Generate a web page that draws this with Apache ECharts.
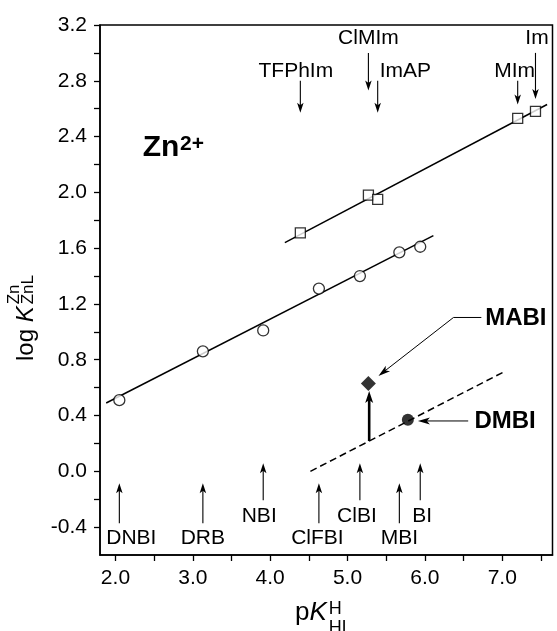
<!DOCTYPE html>
<html><head><meta charset="utf-8">
<script src="https://cdn.jsdelivr.net/npm/echarts@6.0.0/dist/echarts.min.js"></script>
<style>html,body{margin:0;padding:0;background:#fff}#chart{width:557px;height:631px}</style>
</head><body><div id="chart"></div>
<script>
// ---------- data ----------
const benzNames = ['DNBI', 'DRB', 'NBI', 'ClFBI', 'ClBI', 'MBI', 'BI'];
const benzPKa   = [2.05, 3.13, 3.91, 4.63, 5.16, 5.67, 5.94];
const benzLogK  = [0.51, 0.86, 1.01, 1.31, 1.40, 1.57, 1.61];

const imNames = ['TFPhIm', 'ClMIm', 'ImAP', 'MIm', 'Im'];
const imPKa   = [4.39, 5.27, 5.39, 7.20, 7.43];
const imLogK  = [1.71, 1.98, 1.95, 2.53, 2.58];

const extraNames = ['MABI', 'DMBI'];
const extraPKa   = [5.27, 5.78];
const extraLogK  = [0.63, 0.37];

// straight reference lines (end points)
const benzFitX = [1.88, 6.11];
const benzFitY = [0.49, 1.69];
const imFitX   = [4.19, 7.58];
const imFitY   = [1.64, 2.63];
const dmbiFitX = [4.52, 7.01];
const dmbiFitY = [0.00, 0.71];

// axes
const xTickValues  = [2.0, 2.5, 3.0, 3.5, 4.0, 4.5, 5.0, 5.5, 6.0, 6.5, 7.0, 7.5];
const xLabelValues = [2.0, 3.0, 4.0, 5.0, 6.0, 7.0];
const yTickValues  = [-0.4, -0.2, 0.0, 0.2, 0.4, 0.6, 0.8, 1.0, 1.2, 1.4, 1.6, 1.8, 2.0, 2.2, 2.4, 2.6, 2.8, 3.0, 3.2];
const yLabelValues = [-0.4, 0.0, 0.4, 0.8, 1.2, 1.6, 2.0, 2.4, 2.8, 3.2];

// ---------- annotation layout (data units / px offsets) ----------
const benzRow = [0, 0, 1, 0, 1, 0, 1];
const bottomRows = [{tail: -0.372, tip: -0.086, text: -0.478}, {tail: -0.207, tip: 0.058, text: -0.32}];
const benzLabelDx = [12, 0, -4, -1.5, -3, 0, 2];

const imRow = [0, 1, 0, 0, 1];
const topRows = [{tail: 2.80, text: 2.868}, {tail: 3.0, text: 3.107}];
const imTip = [2.57, 2.73, 2.57, 2.63, 2.67];
const imLabelDx = [-4.5, 0, 2, -3, 1.5];
const imLabelAlign = ['center', 'center', 'left', 'center', 'center'];

const FONT = "'Liberation Sans', Arial, Helvetica, sans-serif";

// arrows: [x1, y1, x2, y2, kind]
const arrows = [];
benzPKa.forEach((x, i) => { const r = bottomRows[benzRow[i]]; arrows.push([x, r.tail, x, r.tip, 0]); });
imPKa.forEach((x, i) => { const r = topRows[imRow[i]]; arrows.push([x, r.tail, x, imTip[i], 0]); });
arrows.push([extraPKa[0] + 0.01, 0.217, extraPKa[0] + 0.01, 0.576, 1]);   // thick arrow up to MABI
arrows.push([6.73, 1.103, 6.37, 1.103, 2]);                                // MABI leader (horizontal)
arrows.push([6.37, 1.103, 5.40, 0.684, 3]);                                // MABI leader (diagonal)
arrows.push([6.56, 0.361, 5.91, 0.361, 3]);                                // DMBI arrow

const arrowKinds = [
  {lw: 1.1, hl: 10, hw: 6.5},
  {lw: 2.6, hl: 12, hw: 8},
  {lw: 1.0, hl: 0,  hw: 0},
  {lw: 1.0, hl: 12, hw: 7}
];

// text labels
const labels = [];
benzNames.forEach((n, i) => labels.push({name: n, value: [benzPKa[i], bottomRows[benzRow[i]].text], dx: benzLabelDx[i], align: 'center', bold: false}));
imNames.forEach((n, i) => labels.push({name: n, value: [imPKa[i], topRows[imRow[i]].text], dx: imLabelDx[i], align: imLabelAlign[i], bold: false}));
labels.push({name: extraNames[0], value: [6.78, 1.10], dx: 0, align: 'left', bold: true});
labels.push({name: extraNames[1], value: [6.64, 0.36], dx: 0, align: 'left', bold: true});

function renderArrow(params, api) {
  const a = api.coord([api.value(0), api.value(1)]);
  const b = api.coord([api.value(2), api.value(3)]);
  const k = arrowKinds[api.value(4)];
  const dx = b[0] - a[0], dy = b[1] - a[1], L = Math.hypot(dx, dy);
  const ux = dx / L, uy = dy / L, nx = -uy, ny = ux;
  const children = [];
  const end = k.hl > 0 ? [b[0] - ux * k.hl * 0.6, b[1] - uy * k.hl * 0.6] : b;
  children.push({type: 'line', shape: {x1: a[0], y1: a[1], x2: end[0], y2: end[1]}, style: {stroke: '#000', lineWidth: k.lw}});
  if (k.hl > 0) {
    children.push({type: 'polygon', shape: {points: [
      [b[0], b[1]],
      [b[0] - ux * k.hl + nx * k.hw / 2, b[1] - uy * k.hl + ny * k.hw / 2],
      [b[0] - ux * k.hl * 0.75, b[1] - uy * k.hl * 0.75],
      [b[0] - ux * k.hl - nx * k.hw / 2, b[1] - uy * k.hl - ny * k.hw / 2]
    ]}, style: {fill: '#000'}});
  }
  return {type: 'group', children};
}

function renderLabel(params, api) {
  const item = labels[params.dataIndex];
  const p = api.coord([api.value(0), api.value(1)]);
  return {
    type: 'text', x: p[0] + item.dx, y: p[1],
    style: {
      text: item.name, fill: '#000', align: item.align, verticalAlign: 'middle',
      font: (item.bold ? 'bold 24px ' : '21px ') + FONT
    }
  };
}

// text measurement for axis titles
const mctx = document.createElement('canvas').getContext('2d');
function tw(t, f) { mctx.font = f; return mctx.measureText(t).width; }

const yMainFont = '24px ' + FONT, yItalic = 'italic 24px ' + FONT, ySmall = '17px ' + FONT;
const yLogW = tw('log ', yMainFont), yKW = tw('K', yItalic);
const xMainFont = '26px ' + FONT, xItalic = 'italic 26px ' + FONT, xSmall = '18px ' + FONT;
const xPW = tw('p', xMainFont), xKW = tw('K', xItalic);

const chart = echarts.init(document.getElementById('chart'), null, {renderer: 'canvas'});
chart.setOption({
  animation: false,
  backgroundColor: '#fff',
  grid: {left: 100, right: 4.5, top: 25, bottom: 76, show: true, borderColor: '#000', borderWidth: 1.5, backgroundColor: 'transparent'},
  xAxis: {
    type: 'value', min: 1.8, max: 7.65,
    axisLine: {show: true, onZero: false, lineStyle: {color: '#000', width: 1.5}},
    axisTick: {show: true, length: 6, customValues: xTickValues, lineStyle: {color: '#000', width: 1.3}},
    axisLabel: {customValues: xLabelValues, formatter: v => v.toFixed(1), color: '#000', fontSize: 21, fontFamily: FONT, margin: 13},
    splitLine: {show: false}
  },
  yAxis: {
    type: 'value', min: -0.6, max: 3.2,
    axisLine: {show: true, onZero: false, lineStyle: {color: '#000', width: 1.5}},
    axisTick: {show: true, length: 6, customValues: yTickValues, lineStyle: {color: '#000', width: 1.3}},
    axisLabel: {customValues: yLabelValues, formatter: v => v.toFixed(1), color: '#000', fontSize: 21, fontFamily: FONT, margin: 13},
    splitLine: {show: false}
  },
  series: [
    {type: 'line', data: benzFitX.map((x, i) => [x, benzFitY[i]]), symbol: 'none', lineStyle: {color: '#000', width: 1.5}, z: 2, silent: true},
    {type: 'line', data: imFitX.map((x, i) => [x, imFitY[i]]), symbol: 'none', lineStyle: {color: '#000', width: 1.5}, z: 2, silent: true},
    {type: 'line', data: dmbiFitX.map((x, i) => [x, dmbiFitY[i]]), symbol: 'none', lineStyle: {color: '#000', width: 1.5, type: [7, 4]}, z: 2, silent: true},
    {type: 'custom', renderItem: renderArrow, data: arrows, z: 3, silent: true},
    {type: 'scatter', data: benzPKa.map((x, i) => [x, benzLogK[i]]), symbol: 'circle', symbolSize: 11,
      itemStyle: {color: '#fff', borderColor: '#000', borderWidth: 1.3}, z: 5, silent: true},
    {type: 'scatter', data: imPKa.map((x, i) => [x, imLogK[i]]), symbol: 'rect', symbolSize: 10,
      itemStyle: {color: '#fff', borderColor: '#000', borderWidth: 1.3}, z: 5, silent: true},
    {type: 'scatter', data: [[extraPKa[0], extraLogK[0]]], symbol: 'diamond', symbolSize: 15,
      itemStyle: {color: '#000'}, z: 5, silent: true},
    {type: 'scatter', data: [[extraPKa[1], extraLogK[1]]], symbol: 'circle', symbolSize: 12,
      itemStyle: {color: '#000'}, z: 5, silent: true},
    {type: 'custom', renderItem: renderLabel, data: labels.map(l => ({name: l.name, value: l.value})), z: 6, silent: true}
  ],
  graphic: [
    // Zn2+
    {type: 'text', x: 142.7, y: 148, style: {text: 'Zn', font: 'bold 30px ' + FONT, fill: '#000', align: 'left', verticalAlign: 'middle'}},
    {type: 'text', x: 180, y: 144, style: {text: '2+', font: 'bold 21px ' + FONT, fill: '#000', align: 'left', verticalAlign: 'middle'}},
    // y axis title (rotated)
    {type: 'group', x: 26, y: 361, rotation: Math.PI / 2, children: [
      {type: 'text', x: 0, y: 0, style: {text: 'log ', font: yMainFont, fill: '#000', align: 'left', verticalAlign: 'middle'}},
      {type: 'text', x: yLogW, y: 0, style: {text: 'K', font: yItalic, fill: '#000', align: 'left', verticalAlign: 'middle'}},
      {type: 'text', x: yLogW + yKW + 2, y: -12, style: {text: 'Zn', font: ySmall, fill: '#000', align: 'left', verticalAlign: 'middle'}},
      {type: 'text', x: yLogW + yKW + 2, y: 2, style: {text: 'ZnL', font: ySmall, fill: '#000', align: 'left', verticalAlign: 'middle'}}
    ]},
    // x axis title
    {type: 'text', x: 295, y: 613, style: {text: 'p', font: xMainFont, fill: '#000', align: 'left', verticalAlign: 'middle'}},
    {type: 'text', x: 295 + xPW, y: 613, style: {text: 'K', font: xItalic, fill: '#000', align: 'left', verticalAlign: 'middle'}},
    {type: 'text', x: 295 + xPW + xKW + 2, y: 609, style: {text: 'H', font: xSmall, fill: '#000', align: 'left', verticalAlign: 'middle'}},
    {type: 'text', x: 295 + xPW + xKW + 2, y: 628, style: {text: 'HL', font: xSmall, fill: '#000', align: 'left', verticalAlign: 'middle'}}
  ]
});
</script></body></html>
